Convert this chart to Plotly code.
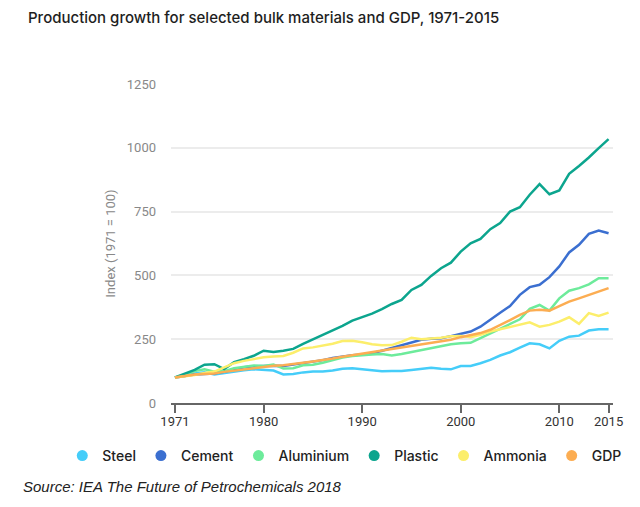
import plotly.graph_objects as go

years = list(range(1971, 2016))

steel = [100, 106, 116, 120, 112, 118, 122, 128, 132, 130, 127, 112, 114, 120, 123,
         123, 127, 134, 136, 132, 128, 124, 125, 125, 129, 133, 138, 134, 132, 145,
         145, 156, 169, 186, 199, 217, 234, 230, 214, 244, 260, 264, 284, 289, 289]
cement = [100, 106, 112, 114, 116, 122, 132, 140, 144, 146, 146, 145, 150, 156, 162,
          168, 176, 182, 187, 190, 195, 205, 216, 228, 240, 248, 252, 254, 262, 270,
          280, 299, 328, 354, 380, 424, 454, 463, 493, 535, 590, 620, 663, 676, 665]
aluminium = [100, 110, 125, 132, 123, 125, 136, 142, 147, 145, 151, 135, 136, 148, 150,
             158, 168, 178, 184, 188, 190, 192, 186, 192, 200, 208, 216, 224, 230, 234,
             236, 254, 273, 293, 310, 328, 369, 384, 362, 410, 440, 450, 465, 489, 489]
plastic = [100, 115, 130, 150, 152, 133, 160, 172, 185, 205, 200, 205, 212, 232, 250,
           265, 283, 302, 323, 336, 350, 368, 388, 404, 443, 463, 498, 528, 550, 593,
           626, 643, 681, 705, 750, 767, 816, 858, 818, 833, 898, 929, 962, 999, 1034]
ammonia = [100, 104, 110, 118, 123, 140, 156, 165, 172, 179, 182, 184, 197, 214, 218,
           224, 232, 243, 244, 238, 230, 226, 227, 240, 256, 250, 252, 256, 262, 263,
           258, 267, 280, 289, 299, 306, 316, 299, 306, 319, 336, 310, 352, 341, 354]
gdp = [100, 105, 112, 114, 116, 122, 127, 132, 138, 143, 146, 148, 152, 158, 163,
       168, 174, 181, 187, 193, 200, 205, 211, 218, 224, 230, 237, 242, 248, 258,
       265, 274, 287, 305, 325, 345, 362, 365, 362, 380, 397, 410, 424, 437, 450]

series = [
    ("Steel", steel, "#45cdf9"),
    ("Cement", cement, "#3b6fd0"),
    ("Aluminium", aluminium, "#6deb9b"),
    ("Plastic", plastic, "#0ca58e"),
    ("Ammonia", ammonia, "#fcee6b"),
    ("GDP", gdp, "#fcad52"),
]

x_ticks = [1971, 1980, 1990, 2000, 2010, 2015]
y_ticks = [0, 250, 500, 750, 1000, 1250]

fig = go.Figure()

for name, vals, color in series:
    fig.add_trace(go.Scatter(
        x=years, y=vals, mode="lines", name=name, showlegend=False,
        line=dict(color=color, width=2.5), hoverinfo="skip",
    ))

# legend entries as round dots
for name, vals, color in series:
    fig.add_trace(go.Scatter(
        x=[None], y=[None], mode="markers", name=name,
        marker=dict(color=color, size=11, symbol="circle"),
    ))

# the page body adds an 8px margin, so the figure is a bit smaller than the window
W, H = 632, 499
fig.update_layout(
    width=W, height=H,
    margin=dict(l=163, r=27, t=76, b=104, autoexpand=False),
    paper_bgcolor="white", plot_bgcolor="white",
    font=dict(family="Roboto", size=13, color="#888888"),
    title=dict(
        text="Production growth for selected bulk materials and GDP, 1971-2015",
        x=20 / W, xref="container", xanchor="left", y=1 - 10 / H, yanchor="middle",
        font=dict(family="Inter", size=15, color="#1e1e1e", weight=500),
    ),
    legend=dict(
        orientation="h", x=-0.246, xanchor="left", y=-0.166, yanchor="middle",
        font=dict(family="Inter", size=14, color="#222222", weight=500),
        itemwidth=30,
    ),
    annotations=[dict(
        text="Source: IEA The Future of Petrochemicals 2018",
        xref="paper", yref="paper", x=-0.339, y=-0.263,
        xanchor="left", yanchor="middle", showarrow=False,
        font=dict(family="Liberation Sans", size=15, color="#222222", style="italic"),
    )],
)

fig.update_xaxes(
    range=[1970.6, 2015.45], tickvals=x_ticks, ticktext=[str(t) for t in x_ticks],
    showgrid=False, zeroline=False,
    showline=True, linecolor="#666666", linewidth=2,
    ticks="outside", ticklen=8, tickwidth=2, tickcolor="#666666",
    ticklabelstandoff=-3,
    tickfont=dict(family="Roboto", size=13, color="#333333"),
)
fig.update_yaxes(
    range=[0, 1250], tickvals=y_ticks,
    showgrid=True, gridcolor="#ececec", gridwidth=1.5, zeroline=False,
    ticklabelstandoff=14,
    tickfont=dict(family="Roboto", size=13, color="#888888"),
    title=dict(text="Index (1971 = 100)", standoff=8,
               font=dict(family="Roboto", size=13, color="#888888")),
)

fig.write_html("out.html")
